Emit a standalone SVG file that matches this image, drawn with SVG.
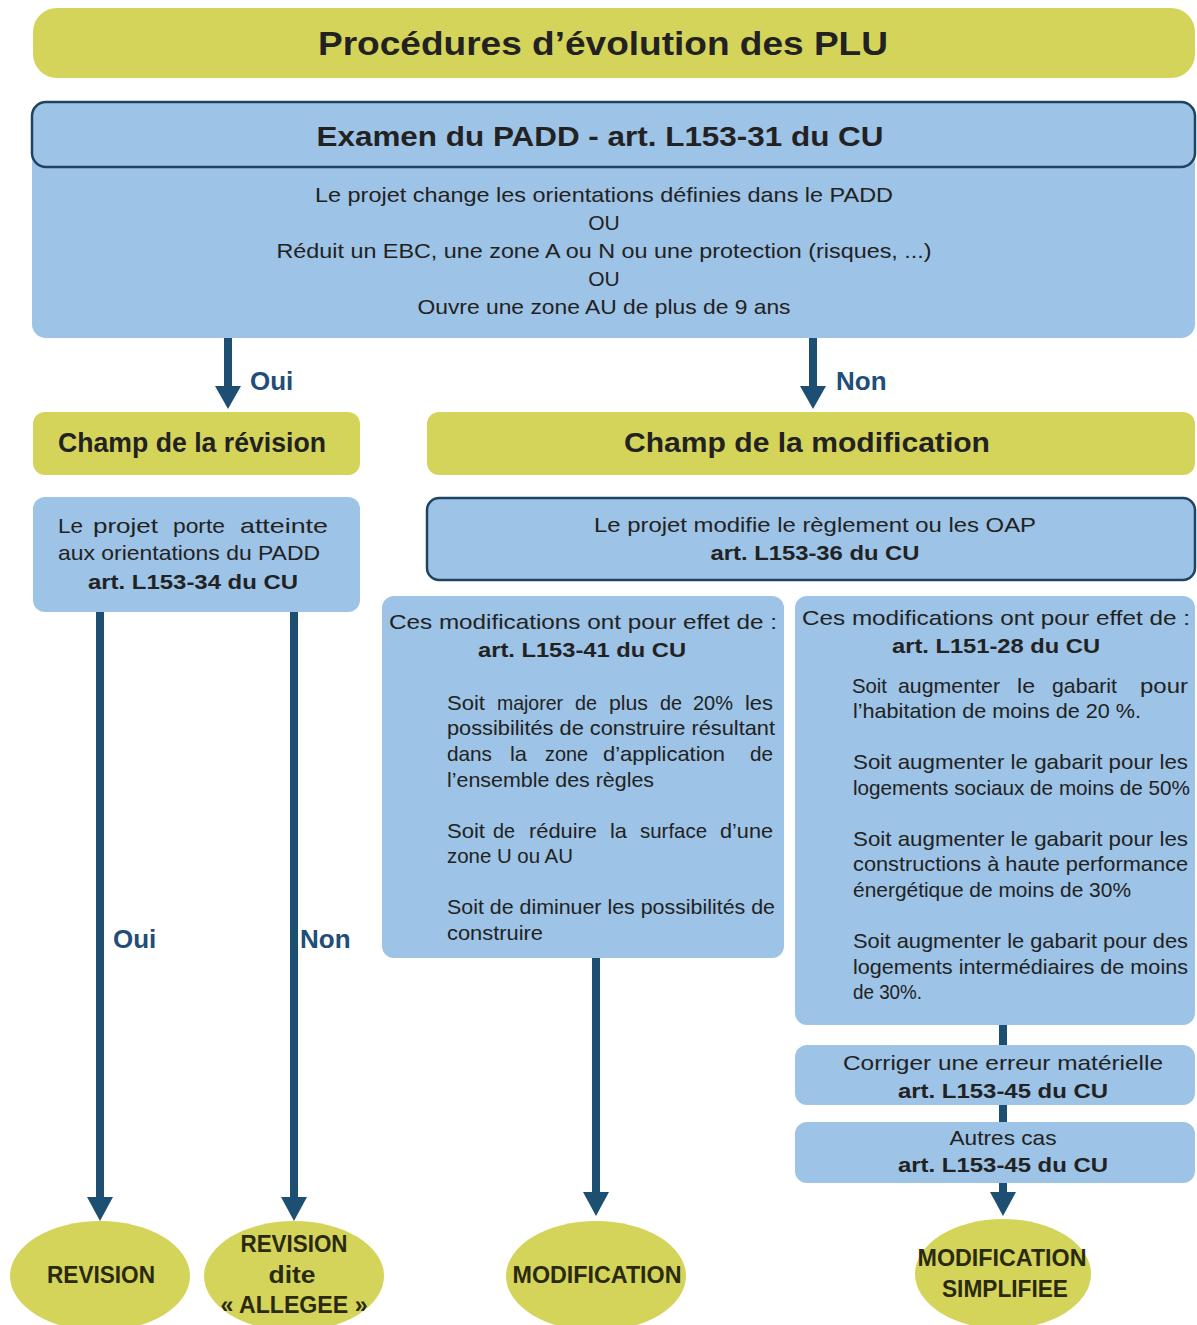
<svg xmlns="http://www.w3.org/2000/svg" width="1197" height="1325" viewBox="0 0 1197 1325">
<defs>
<style>
.y{fill:#d5d45a}
.b{fill:#9dc3e6}
.bs{fill:#9dc3e6;stroke:#1f4461;stroke-width:2.5}
.t{font-family:"Liberation Sans",Arial,sans-serif;fill:#222;font-size:21px}
.tb{font-family:"Liberation Sans",Arial,sans-serif;fill:#222;font-size:21px;font-weight:bold}
.h{font-family:"Liberation Sans",Arial,sans-serif;fill:#222;font-weight:bold}
.lab{font-family:"Liberation Sans",Arial,sans-serif;fill:#1f4e79;font-size:26px;font-weight:bold}
.e{font-family:"Liberation Sans",Arial,sans-serif;fill:#2a2a10;font-size:24px;font-weight:bold}
.ln{stroke:#1d4f73;stroke-width:8;fill:none}
.ah{fill:#1d4f73}
</style>
</defs>
<rect width="1197" height="1325" fill="#ffffff"/>

<g id="title">
<rect class="y" x="33" y="8" width="1162" height="70" rx="24"/>
<text class="h" x="603" y="55" font-size="33" text-anchor="middle" textLength="570" lengthAdjust="spacingAndGlyphs">Procédures d’évolution des PLU</text>
</g>

<g id="padd">
<rect class="b" x="32" y="150" width="1163" height="188" rx="14"/>
<rect class="bs" x="32" y="102" width="1163" height="65" rx="14"/>
<text class="h" x="600" y="146" font-size="28" text-anchor="middle" textLength="567" lengthAdjust="spacingAndGlyphs">Examen du PADD - art. L153-31 du CU</text>
<text class="t" x="604" y="202" text-anchor="middle" textLength="578" lengthAdjust="spacingAndGlyphs">Le projet change les orientations définies dans le PADD</text>
<text class="t" x="604" y="230" text-anchor="middle">OU</text>
<text class="t" x="604" y="258" text-anchor="middle" textLength="655" lengthAdjust="spacingAndGlyphs">Réduit un EBC, une zone A ou N ou une protection (risques, ...)</text>
<text class="t" x="604" y="286" text-anchor="middle">OU</text>
<text class="t" x="604" y="314" text-anchor="middle" textLength="373" lengthAdjust="spacingAndGlyphs">Ouvre une zone AU de plus de 9 ans</text>
</g>

<g id="champ-revision">
<rect class="y" x="33" y="412" width="327" height="63" rx="12"/>
<text class="h" x="192" y="452" font-size="27" text-anchor="middle" textLength="268" lengthAdjust="spacingAndGlyphs">Champ de la révision</text>
</g>

<g id="champ-modification">
<rect class="y" x="427" y="412" width="768" height="63" rx="12"/>
<text class="h" x="807" y="452" font-size="27" text-anchor="middle" textLength="366" lengthAdjust="spacingAndGlyphs">Champ de la modification</text>
</g>

<g id="atteinte-padd">
<rect class="b" x="33" y="497" width="327" height="115" rx="12"/>
<text class="t" x="58" y="533" textLength="25" lengthAdjust="spacingAndGlyphs">Le</text>
<text class="t" x="93" y="533" textLength="65" lengthAdjust="spacingAndGlyphs">projet</text>
<text class="t" x="173" y="533" textLength="52" lengthAdjust="spacingAndGlyphs">porte</text>
<text class="t" x="240" y="533" textLength="88" lengthAdjust="spacingAndGlyphs">atteinte</text>
<text class="t" x="58" y="560" textLength="262" lengthAdjust="spacingAndGlyphs">aux orientations du PADD</text>
<text class="tb" x="193" y="589" text-anchor="middle" textLength="210" lengthAdjust="spacingAndGlyphs">art. L153-34 du CU</text>
</g>

<g id="modifie-reglement">
<rect class="bs" x="427" y="498" width="768" height="82" rx="12"/>
<text class="t" x="815" y="532" text-anchor="middle" textLength="442" lengthAdjust="spacingAndGlyphs">Le projet modifie le règlement ou les OAP</text>
<text class="tb" x="815" y="560" text-anchor="middle" textLength="209" lengthAdjust="spacingAndGlyphs">art. L153-36 du CU</text>
</g>

<g id="effets-l153-41">
<rect class="b" x="382" y="596" width="402" height="362" rx="12"/>
<text class="t" x="389" y="629" textLength="388" lengthAdjust="spacingAndGlyphs">Ces modifications ont pour effet de :</text>
<text class="tb" x="582" y="657" text-anchor="middle" textLength="208" lengthAdjust="spacingAndGlyphs">art. L153-41 du CU</text>
<text class="t" x="447" y="710" textLength="38" lengthAdjust="spacingAndGlyphs">Soit</text>
<text class="t" x="497" y="710" textLength="66" lengthAdjust="spacingAndGlyphs">majorer</text>
<text class="t" x="575" y="710" textLength="22" lengthAdjust="spacingAndGlyphs">de</text>
<text class="t" x="609" y="710" textLength="39" lengthAdjust="spacingAndGlyphs">plus</text>
<text class="t" x="660" y="710" textLength="22" lengthAdjust="spacingAndGlyphs">de</text>
<text class="t" x="693" y="710" textLength="40" lengthAdjust="spacingAndGlyphs">20%</text>
<text class="t" x="745" y="710" textLength="28" lengthAdjust="spacingAndGlyphs">les</text>
<text class="t" x="447" y="735" textLength="328" lengthAdjust="spacingAndGlyphs">possibilités de construire résultant</text>
<text class="t" x="447" y="761" textLength="45" lengthAdjust="spacingAndGlyphs">dans</text>
<text class="t" x="510" y="761" textLength="17" lengthAdjust="spacingAndGlyphs">la</text>
<text class="t" x="545" y="761" textLength="43" lengthAdjust="spacingAndGlyphs">zone</text>
<text class="t" x="603" y="761" textLength="122" lengthAdjust="spacingAndGlyphs">d’application</text>
<text class="t" x="750" y="761" textLength="23" lengthAdjust="spacingAndGlyphs">de</text>
<text class="t" x="447" y="787" textLength="207" lengthAdjust="spacingAndGlyphs">l’ensemble des règles</text>
<text class="t" x="447" y="838" textLength="38" lengthAdjust="spacingAndGlyphs">Soit</text>
<text class="t" x="493" y="838" textLength="22" lengthAdjust="spacingAndGlyphs">de</text>
<text class="t" x="529" y="838" textLength="68" lengthAdjust="spacingAndGlyphs">réduire</text>
<text class="t" x="610" y="838" textLength="17" lengthAdjust="spacingAndGlyphs">la</text>
<text class="t" x="640" y="838" textLength="67" lengthAdjust="spacingAndGlyphs">surface</text>
<text class="t" x="720" y="838" textLength="53" lengthAdjust="spacingAndGlyphs">d’une</text>
<text class="t" x="447" y="863" textLength="126" lengthAdjust="spacingAndGlyphs">zone U ou AU</text>
<text class="t" x="447" y="914" textLength="328" lengthAdjust="spacingAndGlyphs">Soit de diminuer les possibilités de</text>
<text class="t" x="447" y="940" textLength="96" lengthAdjust="spacingAndGlyphs">construire</text>
</g>

<g id="effets-l151-28">
<rect class="b" x="795" y="596" width="400" height="429" rx="12"/>
<text class="t" x="802" y="625" textLength="388" lengthAdjust="spacingAndGlyphs">Ces modifications ont pour effet de :</text>
<text class="tb" x="996" y="653" text-anchor="middle" textLength="208" lengthAdjust="spacingAndGlyphs">art. L151-28 du CU</text>
<text class="t" x="852" y="693" textLength="35" lengthAdjust="spacingAndGlyphs">Soit</text>
<text class="t" x="898" y="693" textLength="102" lengthAdjust="spacingAndGlyphs">augmenter</text>
<text class="t" x="1017" y="693" textLength="18" lengthAdjust="spacingAndGlyphs">le</text>
<text class="t" x="1052" y="693" textLength="65" lengthAdjust="spacingAndGlyphs">gabarit</text>
<text class="t" x="1140" y="693" textLength="48" lengthAdjust="spacingAndGlyphs">pour</text>
<text class="t" x="853" y="718" textLength="288" lengthAdjust="spacingAndGlyphs">l’habitation de moins de 20 %.</text>
<text class="t" x="853" y="769" textLength="335" lengthAdjust="spacingAndGlyphs">Soit augmenter le gabarit pour les</text>
<text class="t" x="853" y="795" textLength="337" lengthAdjust="spacingAndGlyphs">logements sociaux de moins de 50%</text>
<text class="t" x="853" y="846" textLength="335" lengthAdjust="spacingAndGlyphs">Soit augmenter le gabarit pour les</text>
<text class="t" x="853" y="871" textLength="335" lengthAdjust="spacingAndGlyphs">constructions à haute performance</text>
<text class="t" x="853" y="897" textLength="278" lengthAdjust="spacingAndGlyphs">énergétique de moins de 30%</text>
<text class="t" x="853" y="948" textLength="335" lengthAdjust="spacingAndGlyphs">Soit augmenter le gabarit pour des</text>
<text class="t" x="853" y="974" textLength="335" lengthAdjust="spacingAndGlyphs">logements intermédiaires de moins</text>
<text class="t" x="853" y="999" textLength="69" lengthAdjust="spacingAndGlyphs">de 30%.</text>
</g>

<g id="erreur-materielle">
<rect class="b" x="795" y="1045" width="400" height="60" rx="12"/>
<text class="t" x="1003" y="1070" text-anchor="middle" textLength="320" lengthAdjust="spacingAndGlyphs">Corriger une erreur matérielle</text>
<text class="tb" x="1003" y="1098" text-anchor="middle" textLength="210" lengthAdjust="spacingAndGlyphs">art. L153-45 du CU</text>
</g>

<g id="autres-cas">
<rect class="b" x="795" y="1122" width="400" height="61" rx="12"/>
<text class="t" x="1003" y="1145" text-anchor="middle" textLength="107" lengthAdjust="spacingAndGlyphs">Autres cas</text>
<text class="tb" x="1003" y="1172" text-anchor="middle" textLength="210" lengthAdjust="spacingAndGlyphs">art. L153-45 du CU</text>
</g>

<g id="revision">
<ellipse class="y" cx="100" cy="1276" rx="90" ry="55"/>
<text class="e" x="101" y="1283" text-anchor="middle" textLength="108" lengthAdjust="spacingAndGlyphs">REVISION</text>
</g>

<g id="revision-allegee">
<ellipse class="y" cx="294" cy="1276" rx="90" ry="55"/>
<text class="e" x="294" y="1252" text-anchor="middle" textLength="107" lengthAdjust="spacingAndGlyphs">REVISION</text>
<text class="e" x="292" y="1283" text-anchor="middle" textLength="47" lengthAdjust="spacingAndGlyphs">dite</text>
<text class="e" x="294" y="1313" text-anchor="middle" textLength="147" lengthAdjust="spacingAndGlyphs">« ALLEGEE »</text>
</g>

<g id="modification">
<ellipse class="y" cx="596" cy="1276" rx="90" ry="55"/>
<text class="e" x="597" y="1283" text-anchor="middle" textLength="169" lengthAdjust="spacingAndGlyphs">MODIFICATION</text>
</g>

<g id="modification-simplifiee">
<ellipse class="y" cx="1003" cy="1274" rx="88" ry="55"/>
<text class="e" x="1002" y="1266" text-anchor="middle" textLength="169" lengthAdjust="spacingAndGlyphs">MODIFICATION</text>
<text class="e" x="1005" y="1297" text-anchor="middle" textLength="126" lengthAdjust="spacingAndGlyphs">SIMPLIFIEE</text>
</g>

<g id="connectors">
<line class="ln" x1="228" y1="338" x2="228" y2="388"/>
<polygon class="ah" points="215,386 241,386 228,409"/>
<text class="lab" x="250" y="390">Oui</text>
<line class="ln" x1="813" y1="338" x2="813" y2="388"/>
<polygon class="ah" points="800,386 826,386 813,409"/>
<text class="lab" x="836" y="390">Non</text>

<line class="ln" x1="100" y1="612" x2="100" y2="1199"/>
<polygon class="ah" points="87,1197 113,1197 100,1221"/>
<text class="lab" x="113" y="948">Oui</text>
<line class="ln" x1="294" y1="612" x2="294" y2="1199"/>
<polygon class="ah" points="281,1197 307,1197 294,1221"/>
<text class="lab" x="300" y="948">Non</text>

<line class="ln" x1="596" y1="958" x2="596" y2="1194"/>
<polygon class="ah" points="583,1192 609,1192 596,1216"/>

<line class="ln" x1="1003" y1="1025" x2="1003" y2="1045"/>
<line class="ln" x1="1003" y1="1105" x2="1003" y2="1122"/>
<line class="ln" x1="1003" y1="1183" x2="1003" y2="1194"/>
<polygon class="ah" points="990,1192 1016,1192 1003,1216"/>
</g>
</svg>
